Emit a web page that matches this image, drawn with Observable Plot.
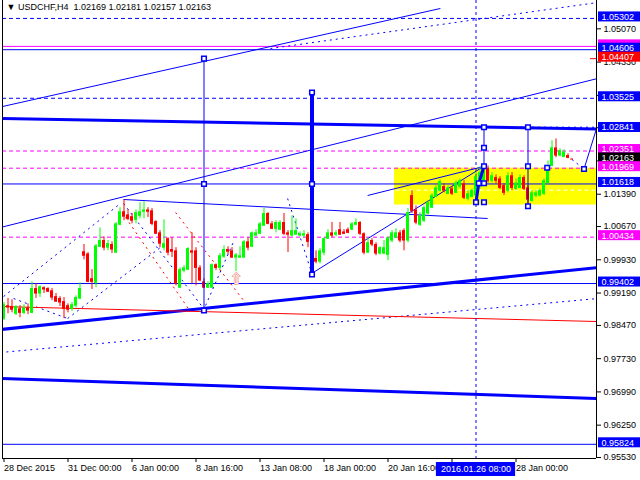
<!DOCTYPE html>
<html><head><meta charset="utf-8">
<script src="https://cdn.jsdelivr.net/npm/d3@7"></script>
<script src="https://cdn.jsdelivr.net/npm/@observablehq/plot@0.6"></script>
<style>body{margin:0;background:#fff}svg{display:block}</style>
</head><body><div id="chart"></div>
<script>
// ---- candle data (USDCHF H4), bar index 0 = 28 Dec 2015 ----
const opens = [0.9862,0.9891,0.9889,0.9873,0.9884,0.9875,0.9886,0.9875,0.9929,0.9918,0.9931,0.9929,0.9924,0.9911,0.9907,0.9900,0.9891,0.9884,0.9891,0.9907,
1.0011,1.0006,0.9951,0.9942,1.0022,1.0036,1.0020,1.0027,1.0009,1.0071,1.0100,1.0093,1.0089,1.0082,1.0091,1.0100,1.0104,1.0102,1.0078,1.0053,
1.0020,1.0040,1.0016,1.0013,0.9931,0.9969,0.9971,1.0013,1.0013,0.9975,0.9944,0.9931,0.9931,0.9982,0.9975,1.0000,1.0016,1.0013,0.9998,0.9998,
0.9998,1.0033,1.0022,1.0047,1.0051,1.0069,1.0096,1.0073,1.0062,1.0060,1.0076,1.0053,1.0047,1.0049,1.0047,1.0047,1.0049,1.0033,0.9996,0.9989,
1.0009,1.0040,1.0053,1.0049,1.0060,1.0055,1.0060,1.0060,1.0071,1.0076,1.0051,1.0009,1.0036,1.0027,1.0007,1.0007,1.0004,1.0036,1.0042,1.0053,
1.0058,1.0036,1.0136,1.0104,1.0071,1.0080,1.0096,1.0109,1.0133,1.0147,1.0156,1.0140,1.0151,1.0142,1.0156,1.0162,1.0129,1.0133,1.0136,1.0173,
1.0169,1.0196,1.0169,1.0176,1.0173,1.0158,1.0147,1.0180,1.0151,1.0153,1.0176,1.0153,1.0124,1.0136,1.0136,1.0140,1.0164,1.0202,1.0242,1.0225,
1.0222,1.0225,1.02169];
const highs = [0.9898,0.9907,0.9904,0.9891,0.9891,0.9893,0.9895,0.9944,0.9940,0.9935,0.9933,0.9931,0.9929,0.9918,0.9911,0.9909,0.9895,0.9898,0.9913,0.9942,
1.0027,1.0009,0.9971,1.0027,1.0064,1.0044,1.0036,1.0033,1.0076,1.0109,1.0127,1.0104,1.0096,1.0104,1.0120,1.0122,1.0109,1.0107,1.0080,1.0058,
1.0082,1.0042,1.0042,1.0020,0.9975,0.9980,1.0020,1.0053,1.0020,0.9980,0.9951,0.9944,0.9984,0.9984,1.0007,1.0024,1.0022,1.0020,1.0007,1.0022,
1.0036,1.0042,1.0055,1.0060,1.0076,1.0107,1.0098,1.0078,1.0080,1.0080,1.0096,1.0058,1.0091,1.0084,1.0055,1.0058,1.0053,1.0036,1.0013,1.0018,
1.0042,1.0060,1.0076,1.0058,1.0076,1.0060,1.0064,1.0076,1.0084,1.0078,1.0053,1.0042,1.0040,1.0031,1.0022,1.0036,1.0044,1.0058,1.0062,1.0058,
1.0062,1.0107,1.0147,1.0113,1.0098,1.0113,1.0124,1.0140,1.0158,1.0171,1.0162,1.0158,1.0156,1.0169,1.0173,1.0169,1.0147,1.0151,1.0187,1.0200,
1.0202,1.0202,1.0187,1.0182,1.0178,1.0162,1.0187,1.0187,1.0173,1.0182,1.0180,1.0158,1.0147,1.0147,1.0151,1.0173,1.0213,1.0258,1.0262,1.0240,
1.0238,1.0229,1.02181];
const lows = [0.9858,0.9873,0.9875,0.9869,0.9864,0.9871,0.9871,0.9873,0.9907,0.9909,0.9918,0.9920,0.9902,0.9898,0.9889,0.9862,0.9875,0.9878,0.9886,0.9904,
0.9993,0.9942,0.9927,0.9931,1.0020,1.0013,1.0013,1.0007,1.0007,1.0069,1.0080,1.0080,1.0073,1.0073,1.0084,1.0084,1.0087,1.0069,1.0049,1.0020,
1.0013,1.0002,0.9998,0.9935,0.9929,0.9964,0.9969,0.9940,0.9935,0.9944,0.9929,0.9929,0.9929,0.9969,0.9969,0.9996,1.0004,0.9996,0.9967,0.9996,
0.9996,1.0013,1.0020,1.0044,1.0049,1.0067,1.0071,1.0060,1.0053,1.0058,1.0047,1.0009,1.0044,1.0047,1.0044,1.0042,1.0020,0.9973,0.9984,0.9984,
1.0002,1.0038,1.0042,1.0044,1.0047,1.0049,1.0051,1.0058,1.0069,1.0047,1.0004,1.0007,1.0022,1.0002,1.0004,1.0004,0.9991,1.0031,1.0040,1.0031,
1.0013,1.0031,1.0096,1.0071,1.0067,1.0076,1.0093,1.0107,1.0131,1.0144,1.0142,1.0138,1.0136,1.0140,1.0151,1.0127,1.0124,1.0131,1.0129,1.0151,
1.0164,1.0164,1.0164,1.0162,1.0149,1.0136,1.0142,1.0147,1.0147,1.0151,1.0147,1.0118,1.0122,1.0131,1.0133,1.0136,1.0162,1.0200,1.0220,1.0222,
1.0220,1.0218,1.02157];
const closes = [0.9893,0.9887,0.9882,0.9889,0.9875,0.9886,0.9880,0.9929,0.9918,0.9933,0.9927,0.9922,0.9909,0.9900,0.9898,0.9884,0.9882,0.9893,0.9909,0.9929,
1.0002,0.9944,0.9944,1.0024,1.0036,1.0020,1.0029,1.0016,1.0073,1.0100,1.0089,1.0084,1.0080,1.0098,1.0100,1.0104,1.0100,1.0073,1.0051,1.0029,
1.0029,1.0009,1.0011,0.9940,0.9971,0.9975,1.0018,1.0009,0.9975,0.9947,0.9931,0.9940,0.9982,0.9975,1.0002,1.0016,1.0011,0.9998,1.0004,1.0002,
1.0033,1.0020,1.0053,1.0053,1.0073,1.0096,1.0073,1.0062,1.0076,1.0076,1.0051,1.0049,1.0058,1.0058,1.0051,1.0051,1.0033,0.9996,0.9989,1.0013,
1.0040,1.0053,1.0047,1.0053,1.0049,1.0051,1.0053,1.0073,1.0076,1.0051,1.0009,1.0031,1.0027,1.0007,1.0020,1.0020,1.0042,1.0053,1.0053,1.0036,
1.0036,1.0098,1.0102,1.0076,1.0091,1.0109,1.0120,1.0136,1.0153,1.0167,1.0147,1.0153,1.0140,1.0164,1.0169,1.0131,1.0140,1.0147,1.0178,1.0187,
1.0191,1.0169,1.0180,1.0169,1.0153,1.0142,1.0180,1.0153,1.0164,1.0176,1.0151,1.0127,1.0142,1.0142,1.0147,1.0169,1.0202,1.0242,1.0225,1.0236,
1.0233,1.0220,1.02163];

// ---- axis ticks ----
const dateTickBars = [0,16,32,48,64,80,96,112,128];
const dateTickLabels = ["28 Dec 2015","31 Dec 00:00","6 Jan 00:00","8 Jan 16:00","13 Jan 08:00","18 Jan 00:00","20 Jan 16:00","","28 Jan 00:00"];
const cursorBar = 118;
const cursorLabel = "2016.01.26 08:00";
const priceTicks = [1.05070,1.04330,1.03590,1.02870,1.02130,1.01390,1.00670,0.99930,0.99190,0.98470,0.97730,0.96990,0.96250,0.95530];
const priceTickShown = [true,true,false,false,false,true,true,true,true,true,true,true,true,true];

// ---- horizontal levels ----
const levelPrices = [1.05302,1.04680,1.04606,1.04407,1.03525,1.02841,1.02351,1.02163,1.01969,1.01618,1.00434,0.99402,0.95824];
const levelKinds  = ["blueDash","magenta","blue","red","blueDash","trend","magentaDash","bid","magentaDash","blue","magentaDash","blue","blue"];
const levelLabelShown = [true,false,true,true,true,true,true,true,true,true,true,true,true];

// ---- trend lines (bar index, price) ----
const trendFromBar   = [-0.9,   -0.9,   -0.9,   -0.9,   -0.9,   -0.9,   -0.9,   76.9,   29.9,   90.9,   -0.1,   15.9,   29.9,   50.4,   70.9,   2.4,    30.4,   42.9,   142,    145,    120,    66.6];
const trendFromPrice = [1.03075,0.98378,0.97288,0.98890,0.97867,1.00649,1.03331,0.99625,1.01272,1.01361,0.99113,0.98623,1.01183,0.98913,1.01294,0.99068,1.00871,1.00983,1.02163,1.01950,1.02881,1.04633];
const trendToBar     = [148.4,  148.4,  148.4,  148.4,  148.4,  148.4,  109.1,  119.9,  120.9,  119.9,  29.1,   39.1,   49.9,   57.4,   76.9,   15.9,   46.6,   59.9,   145,    148.1,  148.1,  148.4];
const trendToPrice   = [1.02841,0.99758,0.96843,0.98556,0.99068,1.03965,1.05523,1.02006,1.00849,1.02006,1.01183,1.00204,0.98846,1.00337,0.99647,0.98623,0.98779,0.99024,1.01950,1.02841,1.02881,1.05656];
const trendKinds     = ["thick","thick","thick","red","dash","thin","thin","thin","thin","thin","dash","dash","dash","dash","dash","dash","redDash","redDash","dash","thin","dash","dash"];

// ---- vertical measuring segments ----
const vertBar  = [50, 77, 120, 131];
const vertTop  = [1.04407,1.03653,1.02881,1.02881];
const vertBot  = [0.98802,0.99603,1.02013,1.01123];
const vertKind = ["thin","thick","thin","thin"];
const markerBar   = [50,50,50,77,77,77,120,120,120,120,120,131,131,131,118,118.7,135.8,145];
const markerPrice = [1.04407,1.01618,0.98802,1.03653,1.01618,0.99603,1.02881,1.02423,1.02013,1.01635,1.01212,1.02881,1.02013,1.01123,1.01212,1.01635,1.01980,1.01950];

// ---- zigzag at the pivot ----
const zigBar   = [118, 118.7, 120];
const zigPrice = [1.01212, 1.01635, 1.02013];

// ---- yellow zone ----
const zoneFromBar = 98, zoneTop = 1.01969, zoneBottom = 1.01150, zoneMid = 1.01480;

// ---- arrow signal ----
const arrowBar = 58, arrowPrice = 0.9950;

// =====================================================================
const xMin = -0.375, xMax = 148.125, yMin = 0.95508, yMax = 1.05701;
const pxX = 4, pxY = 4493; // px per bar, px per price unit (used for label boxes)
const bars = opens.map((o,i)=>({i,o,h:highs[i],l:lows[i],c:closes[i],up:closes[i]>=opens[i]}));
const levels = levelPrices.map((p,k)=>({p,kind:levelKinds[k],shown:levelLabelShown[k]}));
const trends = trendFromBar.map((b,k)=>({x1:b,y1:trendFromPrice[k],x2:trendToBar[k],y2:trendToPrice[k],kind:trendKinds[k]}));
const verts = vertBar.map((b,k)=>({x:b,y1:vertTop[k],y2:vertBot[k],kind:vertKind[k]}));
const markers = markerBar.map((b,k)=>({x:b,y:markerPrice[k]}));
const zig = zigBar.map((b,k)=>({x:b,y:zigPrice[k]}));
const BLUE="#0000ff", MAG="#ff00ff", RED="#ff0000", GREEN="#00ff00";
const lvlColor = k => k.startsWith("magenta")?MAG:k==="red"?RED:k==="bid"?"#000":BLUE;
const boxH = 10/pxY, boxShift = 1.5/pxY;
const bx1 = xMax + 2/pxX, bx2 = xMax + 44/pxX, tx = xMax + 5/pxX;
const lv = k => levels.filter(d=>d.kind===k);
const tr = k => trends.filter(d=>d.kind===k);
const link = (k, o) => Plot.link(tr(k), {x1:"x1",y1:"y1",x2:"x2",y2:"y2", clip:true, ...o});

const plot = Plot.plot({
  width: 640, height: 480,
  marginLeft: 2, marginRight: 44, marginTop: 0, marginBottom: 22,
  x: {domain: [xMin, xMax], axis: null},
  y: {domain: [yMin, yMax], axis: null},
  style: {fontFamily: "'Liberation Sans', Arial, sans-serif", fontSize: "9px", background: "#fff", overflow: "visible"},
  marks: [
    Plot.rect([0], {x1: zoneFromBar - 0.375, x2: xMax, y1: zoneBottom, y2: zoneTop, fill: "#ffff00"}),
    Plot.ruleY([zoneMid], {x1: zoneFromBar, x2: xMax, stroke: "#fff", strokeDasharray: "4,3"}),
    Plot.ruleY(lv("blue"), {y:"p", stroke: BLUE}),
    Plot.ruleY(lv("blueDash"), {y:"p", stroke: BLUE, strokeDasharray: "4,3"}),
    Plot.ruleY(lv("magenta"), {y:"p", stroke: MAG}),
    Plot.ruleY(lv("magentaDash"), {y:"p", stroke: MAG, strokeDasharray: "4,3"}),
    Plot.ruleY(lv("red"), {y:"p", x1: xMax-1.5, x2: xMax, stroke: RED}),
    link("thick", {stroke: BLUE, strokeWidth: 3}),
    link("thin", {stroke: BLUE, strokeWidth: 1}),
    link("dash", {stroke: BLUE, strokeWidth: 1, strokeDasharray: "2,4"}),
    link("red", {stroke: RED, strokeWidth: 1}),
    link("redDash", {stroke: RED, strokeWidth: 1, strokeDasharray: "2,4"}),
    Plot.ruleX([cursorBar], {stroke: BLUE, strokeDasharray: "3,3"}),
    // candles
    Plot.ruleX(bars, {x:"i", y1:"l", y2:"h", stroke: d=>d.up?GREEN:RED}),
    Plot.rect(bars, {x1: d=>d.i-0.375, x2: d=>d.i+0.375, y1: d=>Math.min(d.o,d.c)-0.00012, y2: d=>Math.max(d.o,d.c), fill: d=>d.up?GREEN:RED}),
    // verticals and zigzag
    Plot.link(verts.filter(d=>d.kind==="thin"), {x1:"x",x2:"x",y1:"y1",y2:"y2", stroke: BLUE, strokeWidth: 1}),
    Plot.link(verts.filter(d=>d.kind==="thick"), {x1:"x",x2:"x",y1:"y1",y2:"y2", stroke: BLUE, strokeWidth: 4}),
    Plot.line(zig, {x:"x", y:"y", stroke: BLUE, strokeWidth: 3}),
    Plot.dot(markers, {x:"x", y:"y", symbol:"square", r: 2.6, fill:"#fff", stroke: BLUE, strokeWidth: 1.5}),
    Plot.text([0], {x: arrowBar, y: arrowPrice, text: ["⇧"], fontSize: 15, fill: "#fff", stroke: "#f08070", strokeWidth: 1}),
    // frame
    Plot.ruleX([xMin], {stroke:"#000"}),
    Plot.ruleX([xMax], {stroke:"#000"}),
    Plot.ruleY([yMin], {stroke:"#000", x1: xMin, x2: xMax}),
    // axes
    Plot.axisY(priceTicks, {anchor:"right", tickSize: 4, tickPadding: 3, tickFormat: d=>priceTickShown[priceTicks.indexOf(d)]?d.toFixed(5):"", fontSize: 9, label: null}),
    Plot.axisX(dateTickBars, {anchor:"bottom", tickSize: 4, tickPadding: 2, tickFormat: d=>dateTickLabels[dateTickBars.indexOf(d)], textAnchor:"start", fontSize: 9, label: null}),
    // level labels
    Plot.rect(levels, {x1: bx1, x2: bx2, y1: d=>d.p - boxH/2 + boxShift, y2: d=>d.p + boxH/2 + boxShift, fill: d=>lvlColor(d.kind)}),
    Plot.text(levels.filter(d=>d.shown), {x: tx, y: d=>d.p + boxShift, text: d=>d.p.toFixed(5), fill: "#fff", textAnchor: "start", fontSize: 9}),
    // cursor date label
    Plot.rect([cursorBar], {x1: d=>d-9.9, x2: d=>d+9.9, y1: yMin - 4/pxY, y2: yMin - 18/pxY, fill: BLUE}),
    Plot.text([cursorBar], {x: d=>d, y: yMin - 11/pxY, text: [cursorLabel], fill: "#fff", fontSize: 9}),
    // title
    Plot.text(["▼ USDCHF,H4  1.02169 1.02181 1.02157 1.02163"], {frameAnchor: "top-left", dx: 4, dy: 3, fill: "#000", fontSize: 9, textAnchor:"start", lineAnchor:"top"})
  ]
});
document.getElementById("chart").appendChild(plot);
</script></body></html>
